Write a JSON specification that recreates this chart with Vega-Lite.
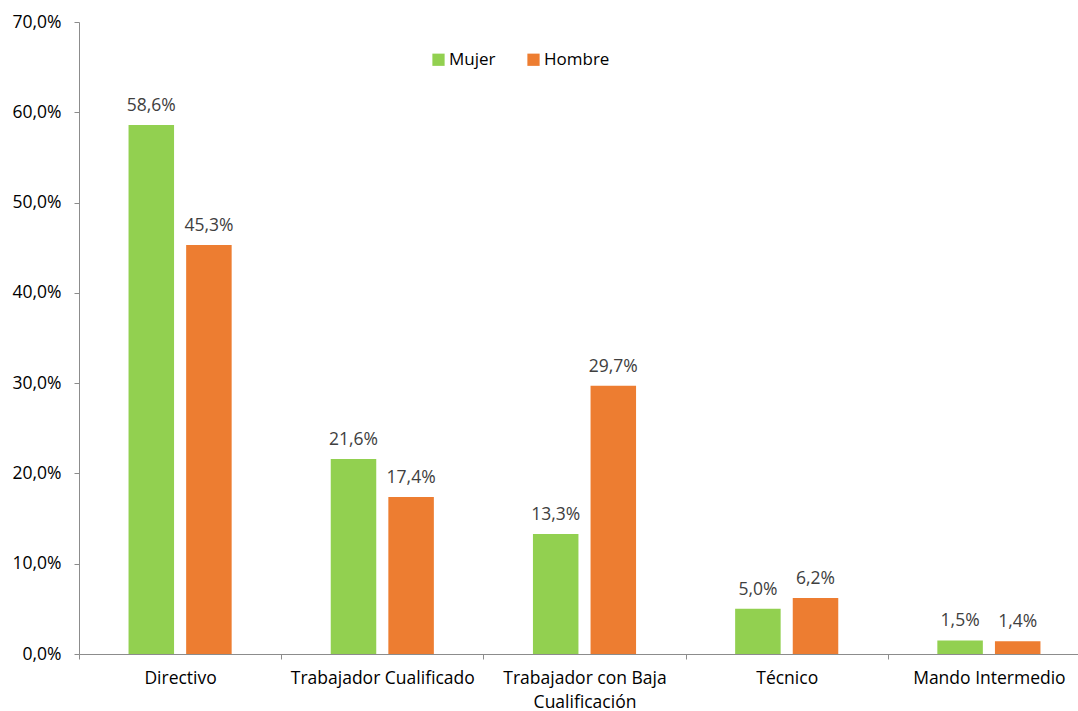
{
  "$schema": "https://vega.github.io/schema/vega-lite/v6.json",
  "width": 999,
  "height": 632,
  "autosize": {"type": "none"},
  "padding": {"left": 79, "top": 22, "right": 0, "bottom": 57},
  "background": "white",
  "config": {
    "locale": {"number": {"decimal": ",", "thousands": ".", "grouping": [3], "currency": ["", " €"]}},
    "view": {"stroke": null},
    "font": "Open Sans"
  },
  "data": {
    "values": [
      {"categoria": "Directivo", "sexo": "Mujer", "valor": 0.586},
      {"categoria": "Directivo", "sexo": "Hombre", "valor": 0.453},
      {"categoria": "Trabajador Cualificado", "sexo": "Mujer", "valor": 0.216},
      {"categoria": "Trabajador Cualificado", "sexo": "Hombre", "valor": 0.174},
      {"categoria": "Trabajador con Baja Cualificación", "sexo": "Mujer", "valor": 0.133},
      {"categoria": "Trabajador con Baja Cualificación", "sexo": "Hombre", "valor": 0.297},
      {"categoria": "Técnico", "sexo": "Mujer", "valor": 0.050},
      {"categoria": "Técnico", "sexo": "Hombre", "valor": 0.062},
      {"categoria": "Mando Intermedio", "sexo": "Mujer", "valor": 0.015},
      {"categoria": "Mando Intermedio", "sexo": "Hombre", "valor": 0.014}
    ]
  },
  "encoding": {
    "x": {
      "field": "categoria",
      "type": "nominal",
      "sort": null,
      "title": null,
      "scale": {"range": [0, 1011], "paddingInner": 0, "paddingOuter": 0},
      "axis": {
        "labelAngle": 0,
        "tickBand": "extent",
        "domainColor": "#8c8c8c",
        "tickColor": "#8c8c8c",
        "tickSize": 5,
        "labelFontSize": 17.5,
        "labelColor": "#000000",
        "labelPadding": 10,
        "labelLineHeight": 24,
        "labelLimit": 0,
        "labelOverlap": false,
        "labelExpr": "datum.label == 'Trabajador con Baja Cualificación' ? ['Trabajador con Baja', 'Cualificación'] : datum.label"
      }
    },
    "xOffset": {
      "field": "sexo",
      "type": "nominal",
      "sort": ["Mujer", "Hombre"],
      "scale": {"paddingInner": 0.21, "paddingOuter": 0.86}
    },
    "y": {
      "field": "valor",
      "type": "quantitative",
      "title": null,
      "scale": {"domain": [0, 0.7], "nice": false},
      "axis": {
        "format": ".1%",
        "values": [0, 0.1, 0.2, 0.3, 0.4, 0.5, 0.6, 0.7],
        "grid": false,
        "domainColor": "#8c8c8c",
        "tickColor": "#8c8c8c",
        "tickSize": 5,
        "labelFontSize": 17.5,
        "labelColor": "#000000",
        "labelPadding": 13
      }
    },
    "color": {
      "field": "sexo",
      "type": "nominal",
      "sort": ["Mujer", "Hombre"],
      "scale": {"domain": ["Mujer", "Hombre"], "range": ["#92D050", "#ED7D31"]},
      "legend": {
        "title": null,
        "orient": "none",
        "direction": "horizontal",
        "legendX": 351,
        "legendY": 29,
        "symbolType": "square",
        "symbolSize": 150,
        "symbolStrokeWidth": 0,
        "labelFontSize": 17,
        "labelColor": "#000000",
        "columnPadding": 29,
        "labelOffset": 2
      }
    }
  },
  "layer": [
    {"mark": {"type": "bar"}},
    {
      "mark": {"type": "text", "baseline": "bottom", "dy": -10, "fontSize": 17.5, "color": "#404040"},
      "encoding": {
        "text": {"field": "valor", "type": "quantitative", "format": ".1%"},
        "color": {"value": "#404040"}
      }
    }
  ]
}
